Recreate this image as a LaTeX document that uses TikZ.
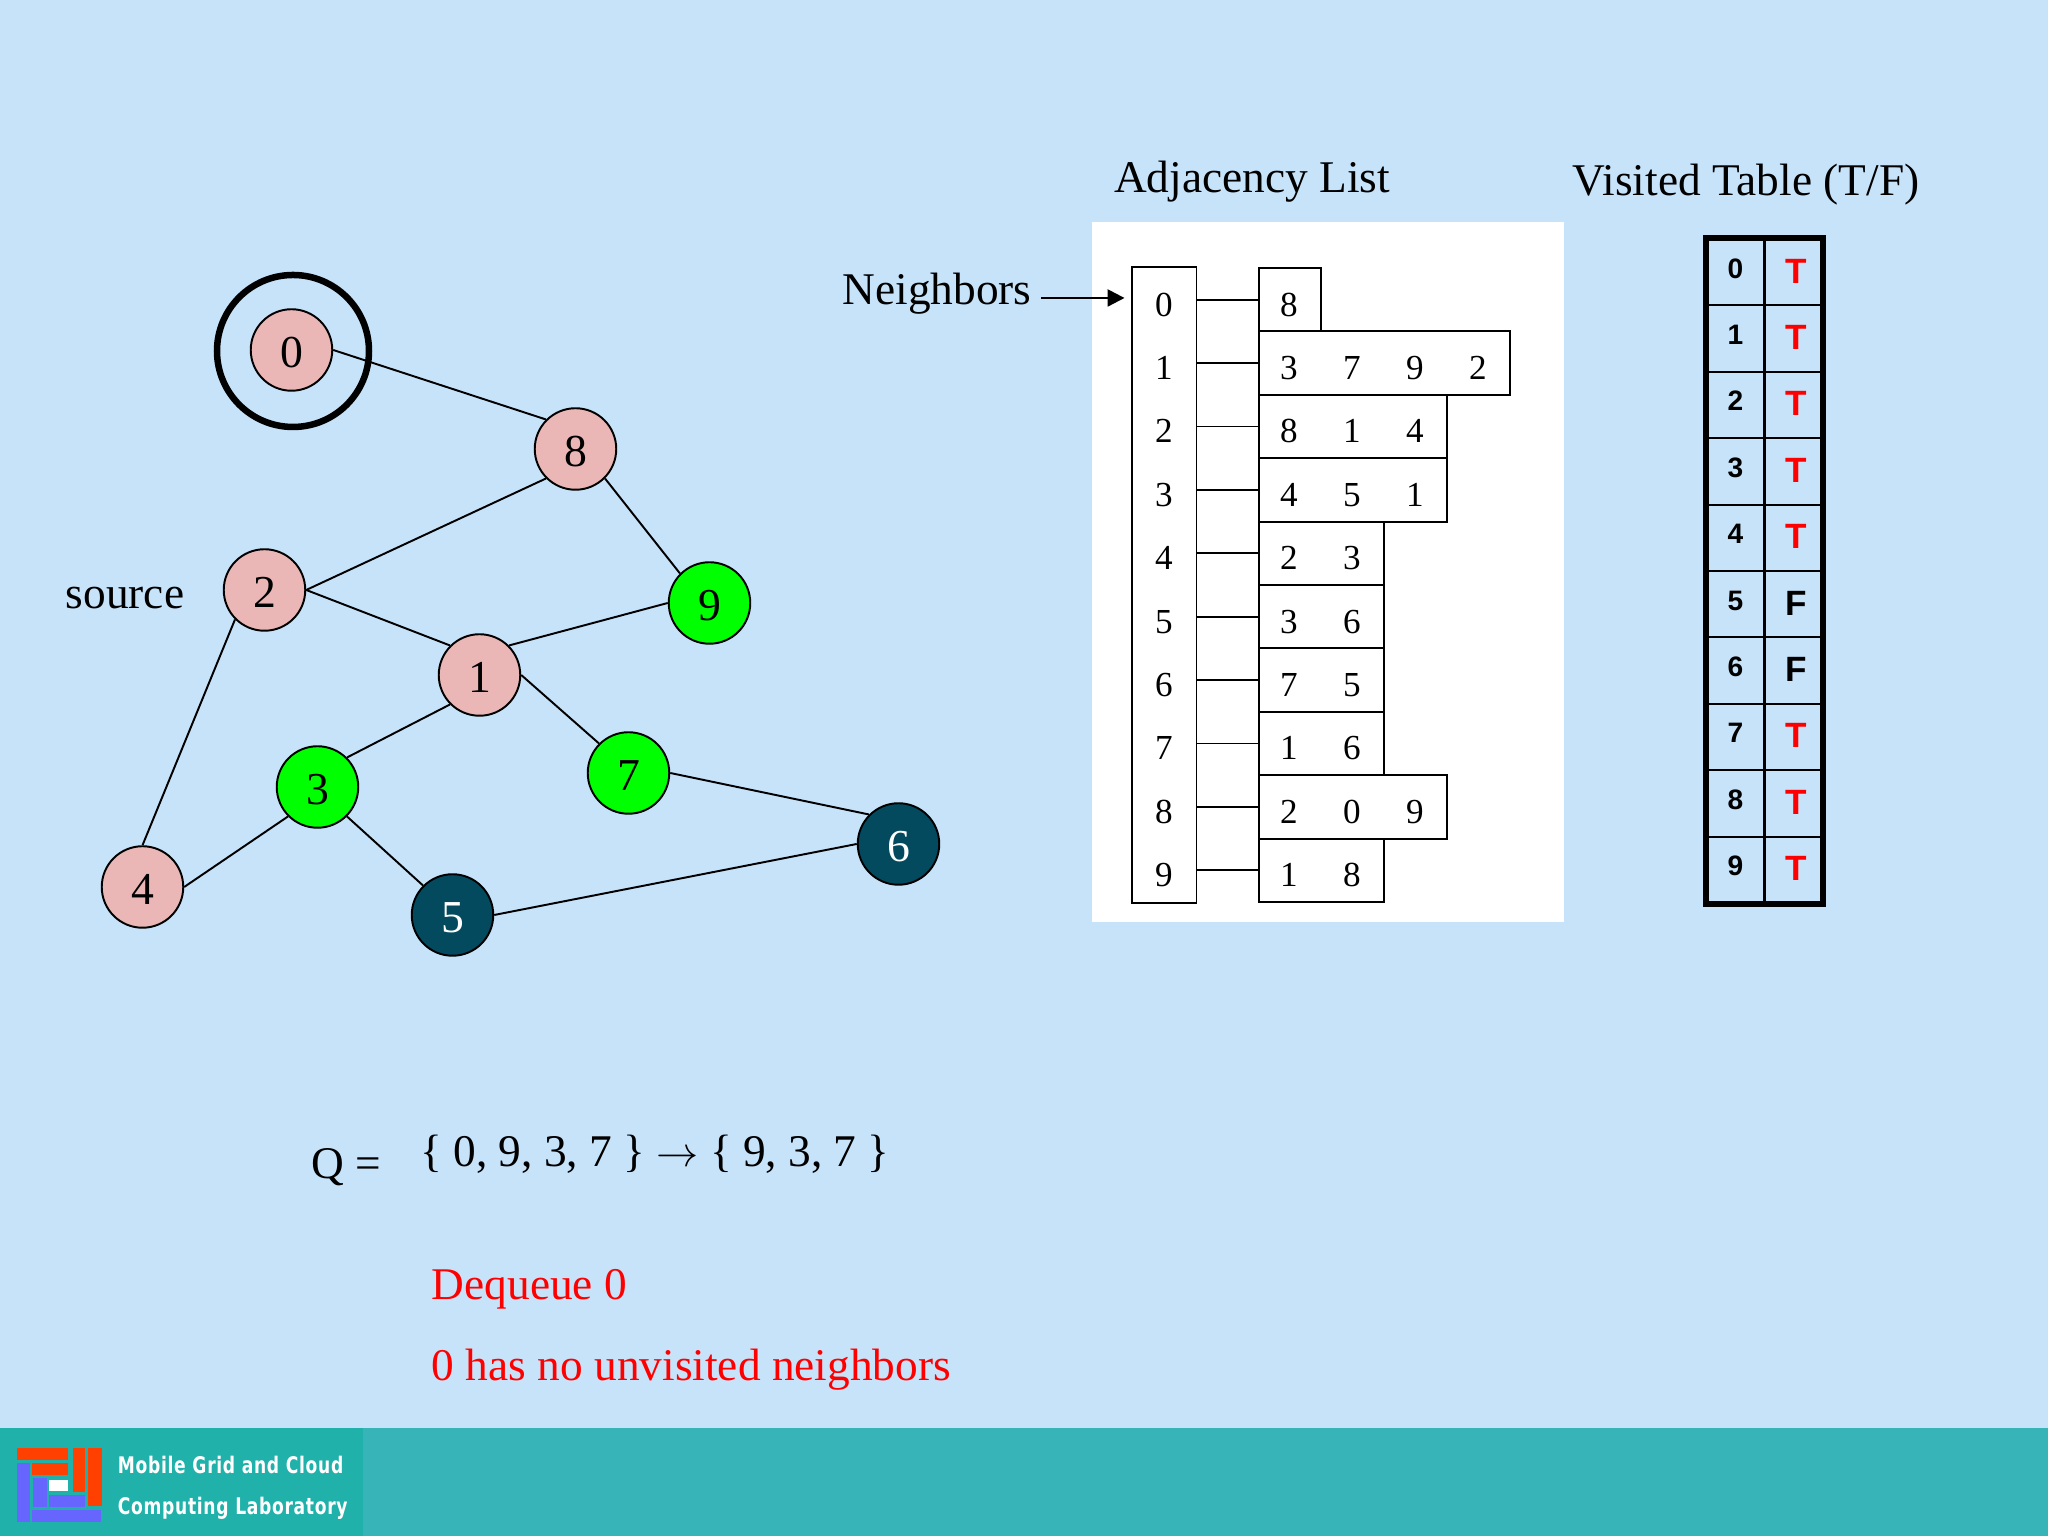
\documentclass[tikz,border=0pt]{standalone}
\usepackage{fontspec}
\setmainfont{Liberation Serif}
\newfontfamily\tablefont{Liberation Sans}
\newfontfamily\logofont[FakeStretch=0.75,LetterSpace=3]{DejaVu Sans Bold}
\usetikzlibrary{arrows, arrows.meta, shapes, positioning, fit}
\definecolor{slidebg}{HTML}{C7E3F9}
\definecolor{barbg}{HTML}{36B4B8}
\definecolor{logobg}{HTML}{20B2AA}
\definecolor{visitpink}{HTML}{EAB6B6}
\definecolor{queuegreen}{HTML}{00FF00}
\definecolor{waitteal}{HTML}{044A5E}
\definecolor{logored}{HTML}{FF4000}
\definecolor{logoblue}{HTML}{6666FF}
\newcommand{\tv}[1]{\hspace*{.05cm}#1}

\begin{document}
\begin{tikzpicture}[->,>={Triangle[length=4.8pt,width=4.8pt]},auto,line width=0.55pt,
  main node/.style={circle,draw,inner sep=0pt,minimum size=.815cm,xshift=.05mm,
  text height=.345cm,font=\fontsize{13}{15}\selectfont},
  mvar/.style={main node,fill=visitpink},
  gvar/.style={main node,fill=queuegreen},
  tvar/.style={main node,fill=waitteal,text=white},
  caption/.style={font=\fontsize{12.9}{15}\selectfont,inner sep=0pt},
  redline/.style={caption,text=red,anchor=west},
  head/.style={minimum width=.63cm,minimum height=.634cm,inner sep=0pt,text height=.33cm,
  font=\fontsize{10}{12}\selectfont},
  cell/.style={inner sep=0pt,text height=.33cm,font=\fontsize{10}{12}\selectfont},
  listbox/.style={draw,anchor=west,minimum height=.634cm,inner sep=0pt},
  tidx/.style={draw,minimum width=.575cm,minimum height=.664cm,inner sep=0pt,text height=.2cm,text depth=.08cm,
  font=\tablefont\bfseries\fontsize{8}{10}\selectfont},
  tval/.style={draw,minimum width=.575cm,minimum height=.664cm,inner sep=0pt,text height=.25cm,text depth=.03cm,
  font=\tablefont\bfseries\fontsize{10}{12}\selectfont},
  logotxt/.style={text=white,anchor=west,inner sep=0pt,font=\logofont\fontsize{6.5}{8}\selectfont}]
  \fill[slidebg] (0,0) rectangle (20.48,15.36);
  \fill[barbg] (0,0) rectangle (20.48,1.08);
  \fill[logobg] (0,0) rectangle (3.63,1.08);

  % graph
  \node[mvar] (N0) at (2.91,11.86) [] {0};
  \node[mvar] (N8) at (5.75,10.87) [] {8};
  \node[mvar] (N2) at (2.64,9.46) [] {2};
  \node[gvar] (N9) at (7.09,9.33) [] {9};
  \node[mvar] (N1) at (4.79,8.61) [] {1};
  \node[gvar] (N7) at (6.28,7.63) [] {7};
  \node[gvar] (N3) at (3.17,7.49) [] {3};
  \node[tvar] (N6) at (8.98,6.92) [] {6};
  \node[mvar] (N4) at (1.42,6.49) [] {4};
  \node[tvar] (N5) at (4.52,6.21) [] {5};
  \node[circle,draw,line width=1.85pt,minimum size=1.52cm,inner sep=0pt] (Ring) at (2.93,11.85) {};

  \node[caption] (Source) at (1.25,9.38) {source};
  \node[caption] (Adj) at (12.52,13.54) {Adjacency List};
  \node[caption] (Vis) at (17.46,13.51) {Visited Table (T/F)};
  \node[caption] (Nbr) at (9.37,12.42) {Neighbors};
  \node[caption] (Q) at (3.46,3.69) {Q =};
  \node[caption] (Set) at (6.55,3.82) {\{ 0, 9, 3, 7 \} $\rightarrow$ \{ 9, 3, 7 \}};
  \node[redline] (Deq) at (4.31,2.47) {Dequeue 0};
  \node[redline] (Msg) at (4.31,1.66) {0 has no unvisited neighbors};

  % adjacency list
  \node[fill=white,minimum width=4.72cm,minimum height=7cm,inner sep=0pt] (Panel) at (13.28,9.64) {};
  \node[head] (H0) at (11.64,12.363) {0};
  \node[head] (H1) at (11.64,11.729) {1};
  \node[head] (H2) at (11.64,11.095) {2};
  \node[head] (H3) at (11.64,10.461) {3};
  \node[head] (H4) at (11.64,9.827) {4};
  \node[head] (H5) at (11.64,9.193) {5};
  \node[head] (H6) at (11.64,8.559) {6};
  \node[head] (H7) at (11.64,7.925) {7};
  \node[head] (H8) at (11.64,7.291) {8};
  \node[head] (H9) at (11.64,6.657) {9};
  \node[draw,fit=(H0)(H9),inner sep=0pt] (Heads) {};

  \node[listbox,minimum width=.62cm] (L0) at (12.58,12.363) {};
  \node[listbox,minimum width=2.51cm] (L1) at (12.58,11.729) {};
  \node[listbox,minimum width=1.88cm] (L2) at (12.58,11.095) {};
  \node[listbox,minimum width=1.88cm] (L3) at (12.58,10.461) {};
  \node[listbox,minimum width=1.25cm] (L4) at (12.58,9.827) {};
  \node[listbox,minimum width=1.25cm] (L5) at (12.58,9.193) {};
  \node[listbox,minimum width=1.25cm] (L6) at (12.58,8.559) {};
  \node[listbox,minimum width=1.25cm] (L7) at (12.58,7.925) {};
  \node[listbox,minimum width=1.88cm] (L8) at (12.58,7.291) {};
  \node[listbox,minimum width=1.25cm] (L9) at (12.58,6.657) {};

  \node[cell] (C00) at (12.89,12.363) {8};
  \node[cell] (C10) at (12.89,11.729) {3};
  \node[cell] (C11) at (13.52,11.729) {7};
  \node[cell] (C12) at (14.15,11.729) {9};
  \node[cell] (C13) at (14.78,11.729) {2};
  \node[cell] (C20) at (12.89,11.095) {8};
  \node[cell] (C21) at (13.52,11.095) {1};
  \node[cell] (C22) at (14.15,11.095) {4};
  \node[cell] (C30) at (12.89,10.461) {4};
  \node[cell] (C31) at (13.52,10.461) {5};
  \node[cell] (C32) at (14.15,10.461) {1};
  \node[cell] (C40) at (12.89,9.827) {2};
  \node[cell] (C41) at (13.52,9.827) {3};
  \node[cell] (C50) at (12.89,9.193) {3};
  \node[cell] (C51) at (13.52,9.193) {6};
  \node[cell] (C60) at (12.89,8.559) {7};
  \node[cell] (C61) at (13.52,8.559) {5};
  \node[cell] (C70) at (12.89,7.925) {1};
  \node[cell] (C71) at (13.52,7.925) {6};
  \node[cell] (C80) at (12.89,7.291) {2};
  \node[cell] (C81) at (13.52,7.291) {0};
  \node[cell] (C82) at (14.15,7.291) {9};
  \node[cell] (C90) at (12.89,6.657) {1};
  \node[cell] (C91) at (13.52,6.657) {8};

  % visited table
  \node[tidx] (I0) at (17.355,12.638) {0};
  \node[tidx] (I1) at (17.355,11.974) {1};
  \node[tidx] (I2) at (17.355,11.31) {2};
  \node[tidx] (I3) at (17.355,10.646) {3};
  \node[tidx] (I4) at (17.355,9.982) {4};
  \node[tidx] (I5) at (17.355,9.318) {5};
  \node[tidx] (I6) at (17.355,8.654) {6};
  \node[tidx] (I7) at (17.355,7.99) {7};
  \node[tidx] (I8) at (17.355,7.326) {8};
  \node[tidx] (I9) at (17.355,6.662) {9};
  \node[tval,text=red] (V0) at (17.935,12.638) {\tv{T}};
  \node[tval,text=red] (V1) at (17.935,11.974) {\tv{T}};
  \node[tval,text=red] (V2) at (17.935,11.31) {\tv{T}};
  \node[tval,text=red] (V3) at (17.935,10.646) {\tv{T}};
  \node[tval,text=red] (V4) at (17.935,9.982) {\tv{T}};
  \node[tval] (V5) at (17.935,9.318) {\tv{F}};
  \node[tval] (V6) at (17.935,8.654) {\tv{F}};
  \node[tval,text=red] (V7) at (17.935,7.99) {\tv{T}};
  \node[tval,text=red] (V8) at (17.935,7.326) {\tv{T}};
  \node[tval,text=red] (V9) at (17.935,6.662) {\tv{T}};
  \node[draw,line width=1.7pt,fit=(I0)(V9),inner sep=0pt] (Table) {};

  % logo
  \fill[logored] (.17,.88) rectangle (.68,.76);
  \fill[logored] (.32,.73) rectangle (.68,.61);
  \fill[logored] (.73,.88) rectangle (.85,.44);
  \fill[logored] (.88,.88) rectangle (1.02,.30);
  \fill[logoblue] (.17,.73) rectangle (.30,.14);
  \fill[logoblue] (.32,.26) rectangle (1.01,.14);
  \fill[logoblue] (.33,.58) rectangle (.47,.29);
  \fill[logoblue] (.49,.41) rectangle (.85,.29);
  \fill[white] (.49,.56) rectangle (.68,.45);
  \node[logotxt] (Logo1) at (1.17,.71) {Mobile Grid and Cloud};
  \node[logotxt] (Logo2) at (1.17,.28) {Computing Laboratory};

  \coordinate (Arr) at (10.41,12.38);

  \path[-]
     (N0.0) edge (N8.135)
     (N8.225) edge (N2.0)
     (N8.315) edge (N9.135)
     (N2.0) edge (N1.135)
     (N2.225) edge (N4.90)
     (N9.180) edge (N1.45)
     (N1.0) edge (N7.135)
     (N1.225) edge (N3.45)
     (N3.225) edge (N4.0)
     (N3.315) edge (N5.135)
     (N7.0) edge (N6.135)
     (N5.0) edge (N6.180)
     (H0) edge (L0)
     (H1) edge (L1)
     (H2) edge (L2)
     (H3) edge (L3)
     (H4) edge (L4)
     (H5) edge (L5)
     (H6) edge (L6)
     (H7) edge (L7)
     (H8) edge (L8)
     (H9) edge (L9);
  \path[line width=.7pt,shorten >=.07cm]
     (Arr) edge (Arr -| H0.west);
\end{tikzpicture}
\end{document}
